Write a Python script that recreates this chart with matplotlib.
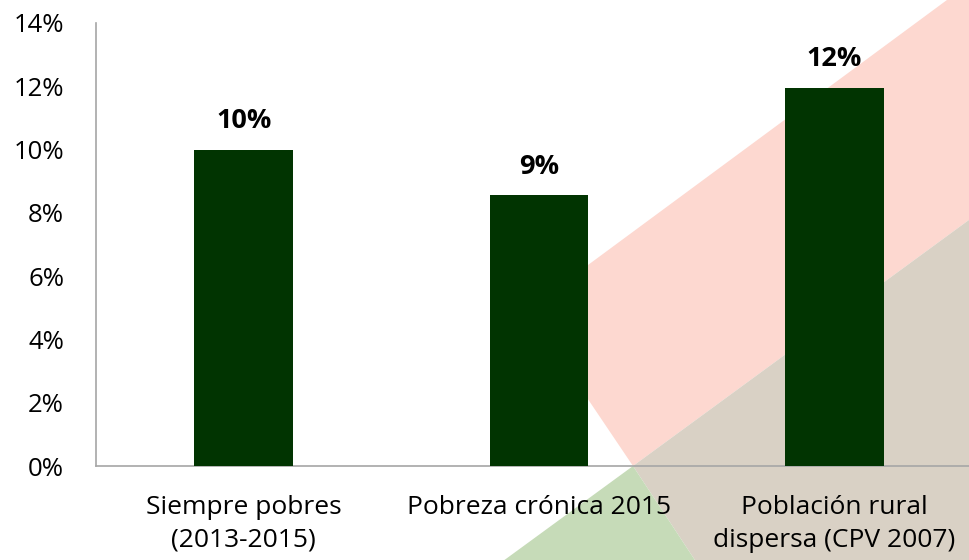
import matplotlib
matplotlib.use("Agg")
import matplotlib.pyplot as plt
from matplotlib.patches import Polygon
from matplotlib.ticker import FuncFormatter

categories = ["Siempre pobres\n(2013-2015)", "Pobreza crónica 2015", "Población rural\ndispersa (CPV 2007)"]
values = [10.0, 8.55, 11.95]
value_labels = ["10%", "9%", "12%"]
yticks = [0, 2, 4, 6, 8, 10, 12, 14]

W, H = 969, 560
plt.rcParams['font.family'] = ['Open Sans', 'DejaVu Sans']
fig = plt.figure(figsize=(W / 100, H / 100), dpi=100)
fig.patch.set_facecolor('white')

def fp(pts):
    return [(x / W, 1 - y / H) for x, y in pts]

bg = [
    ([(527.6, 309.6), (1100, -113), (1100, 124), (633, 466)], '#FDD8D0'),
    ([(633, 466), (1100, 124), (1100, 700), (787, 700)], '#D9D1C5'),
    ([(633, 466), (787, 700), (313, 700)], '#C6DBB8'),
]
for pts, c in bg:
    fig.patches.append(Polygon(fp(pts), closed=True, transform=fig.transFigure,
                               facecolor=c, edgecolor='none', zorder=-5))

ax = fig.add_axes([96 / W, 1 - 466 / H, (982 - 96) / W, (466 - 23) / H])
ax.set_zorder(2)
ax.patch.set_alpha(0)
x = range(len(categories))
bars = ax.bar(x, values, width=0.335, color='#013401', zorder=3)
ax.set_xlim(-0.5, 2.5)
ax.set_ylim(0, 14)
ax.set_yticks(yticks)
ax.yaxis.set_major_formatter(FuncFormatter(lambda v, p: f"{int(v)}%"))
ax.set_xticks(list(x))
ax.set_xticklabels(categories, fontsize=19, linespacing=1.4)
ax.tick_params(axis='y', labelsize=18.5, length=0, pad=23)
ax.tick_params(axis='x', length=0, pad=21)
for s in ['top', 'right']:
    ax.spines[s].set_visible(False)
for s in ['left', 'bottom']:
    ax.spines[s].set_color('#A6A6A6')
    ax.spines[s].set_linewidth(1.2)
for b, lab in zip(bars, value_labels):
    ax.annotate(lab, (b.get_x() + b.get_width() / 2, b.get_height()),
                xytext=(0, 15.5), textcoords='offset points', ha='center', va='baseline',
                fontsize=19.5, fontweight='bold')

fig.savefig('out.png', dpi=100)
